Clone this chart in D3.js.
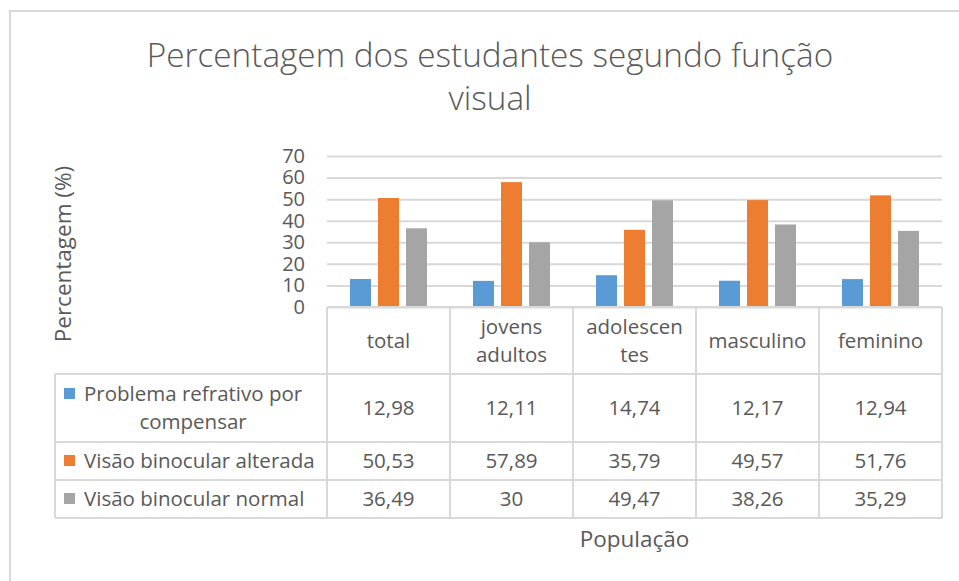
<!DOCTYPE html>
<html>
<head>
<meta charset="utf-8">
<script src="https://cdn.jsdelivr.net/npm/d3@7"></script>
<style>
  body { margin: 0; background: #fff; }
  svg text { font-family: "Open Sans", "Noto Sans", sans-serif; fill: #595959; }
</style>
</head>
<body>
<script>
// Chart data
var categories = ["total", "jovens adultos", "adolescentes", "masculino", "feminino"];
var categoryLines = [["total"], ["jovens", "adultos"], ["adolescen", "tes"], ["masculino"], ["feminino"]];
var seriesNames = ["Problema refrativo por compensar", "Visão binocular alterada", "Visão binocular normal"];
var refrativo = [12.98, 12.11, 14.74, 12.17, 12.94];
var alterada = [50.53, 57.89, 35.79, 49.57, 51.76];
var normal = [36.49, 30, 49.47, 38.26, 35.29];
var yTicks = [0, 10, 20, 30, 40, 50, 60, 70];

var series = [refrativo, alterada, normal];
var colors = ["#5B9BD5", "#ED7D31", "#A5A5A5"];

// Chart parameters
var svgWidth = 959, svgHeight = 581;
var plot = { left: 327, right: 942, top: 156, bottom: 307 };
var tableLeft = 55;
var rowEdges = [307, 374, 442, 480, 518];
var gridColor = "#d9d9d9";
var cellFont = "20.5px";

var svg = d3.select("body").append("svg")
  .attr("width", svgWidth)
  .attr("height", svgHeight);

// chart border (only top and left visible)
svg.append("path")
  .attr("d", `M10,${svgHeight} V11 H${svgWidth}`)
  .attr("fill", "none")
  .attr("stroke", gridColor)
  .attr("stroke-width", 2);

// Scales
var x0 = d3.scaleBand().domain(categories).range([plot.left, plot.right]);
var x1 = d3.scaleBand().domain(d3.range(series.length))
  .range([23, 100]).paddingInner(0.25);
var y = d3.scaleLinear().domain([0, 70]).range([plot.bottom, plot.top]);

// Title
var title = svg.append("text")
  .attr("text-anchor", "middle")
  .style("font-size", "33.3px")
  .style("font-weight", 300);
title.append("tspan").attr("x", 490).attr("y", 67).text("Percentagem dos estudantes segundo função");
title.append("tspan").attr("x", 490).attr("y", 110).text("visual");

// Gridlines + y axis labels
var yAxis = d3.axisLeft(y).tickValues(yTicks).tickSize(-(plot.right - plot.left)).tickPadding(22);
var gAxis = svg.append("g")
  .attr("transform", `translate(${plot.left},0)`)
  .call(yAxis);
gAxis.select(".domain").remove();
gAxis.selectAll("line").attr("stroke", gridColor).attr("stroke-width", 2);
gAxis.selectAll("text")
  .attr("fill", "#595959")
  .style("font-size", "20px")
  .style("font-family", '"Open Sans", sans-serif');

// Bars
var groups = svg.selectAll(".cat")
  .data(categories)
  .enter().append("g")
  .attr("transform", d => `translate(${x0(d)},0)`);

groups.selectAll("rect")
  .data((d, i) => series.map((s, k) => ({ k: k, v: s[i] })))
  .enter().append("rect")
  .attr("x", d => x1(d.k))
  .attr("width", x1.bandwidth())
  .attr("y", d => y(d.v))
  .attr("height", d => y(0) - y(d.v))
  .attr("fill", d => colors[d.k]);

// Data table
var table = svg.append("g")
  .attr("fill", "none")
  .attr("stroke", gridColor)
  .attr("stroke-width", 2);

// horizontal lines
table.append("line").attr("x1", plot.left).attr("x2", plot.right).attr("y1", rowEdges[0]).attr("y2", rowEdges[0]);
rowEdges.slice(1).forEach(function(yy) {
  table.append("line").attr("x1", tableLeft).attr("x2", plot.right).attr("y1", yy).attr("y2", yy);
});
// vertical lines
table.append("line").attr("x1", tableLeft).attr("x2", tableLeft).attr("y1", rowEdges[1]).attr("y2", rowEdges[4]);
categories.forEach(function(c) {
  table.append("line").attr("x1", x0(c)).attr("x2", x0(c)).attr("y1", rowEdges[0]).attr("y2", rowEdges[4]);
});
table.append("line").attr("x1", plot.right).attr("x2", plot.right).attr("y1", rowEdges[0]).attr("y2", rowEdges[4]);

// header labels
categories.forEach(function(c, i) {
  var lines = categoryLines[i];
  var cy = (rowEdges[0] + rowEdges[1]) / 2;
  var lh = 28;
  lines.forEach(function(l, j) {
    svg.append("text")
      .attr("x", x0(c) + x0.bandwidth() / 2)
      .attr("y", cy + (j - (lines.length - 1) / 2) * lh)
      .attr("dy", "0.35em")
      .attr("text-anchor", "middle")
      .style("font-size", cellFont)
      .text(l);
  });
});

// value cells
var fmt = v => String(v).replace(".", ",");
series.forEach(function(s, k) {
  var cy = (rowEdges[k + 1] + rowEdges[k + 2]) / 2;
  s.forEach(function(v, i) {
    svg.append("text")
      .attr("x", x0(categories[i]) + x0.bandwidth() / 2)
      .attr("y", cy)
      .attr("dy", "0.35em")
      .attr("text-anchor", "middle")
      .style("font-size", cellFont)
      .text(fmt(v));
  });
});

// legend cells
var legendLines = [["Problema refrativo por", "compensar"], ["Visão binocular alterada"], ["Visão binocular normal"]];
legendLines.forEach(function(lines, k) {
  var cy = (rowEdges[k + 1] + rowEdges[k + 2]) / 2;
  var lh = 28;
  var firstY = cy - (lines.length - 1) / 2 * lh;
  svg.append("rect")
    .attr("x", 64).attr("y", firstY - 6)
    .attr("width", 11).attr("height", 11)
    .attr("fill", colors[k]);
  var first = svg.append("text")
    .attr("x", 84)
    .attr("y", firstY)
    .attr("dy", "0.35em")
    .style("font-size", cellFont)
    .text(lines[0]);
  if (lines.length > 1) {
    var mid = 84 + first.node().getComputedTextLength() / 2;
    lines.slice(1).forEach(function(l, j) {
      svg.append("text")
        .attr("x", mid)
        .attr("y", firstY + (j + 1) * lh)
        .attr("dy", "0.35em")
        .attr("text-anchor", "middle")
        .style("font-size", cellFont)
        .text(l);
    });
  }
});

// Axis titles
svg.append("text")
  .attr("transform", "translate(63,254) rotate(-90)")
  .attr("text-anchor", "middle")
  .attr("dy", "0.35em")
  .style("font-size", "22.5px")
  .text("Percentagem (%)");

svg.append("text")
  .attr("x", (plot.left + plot.right) / 2)
  .attr("y", 547)
  .attr("text-anchor", "middle")
  .style("font-size", "22.5px")
  .text("População");
</script>
</body>
</html>
